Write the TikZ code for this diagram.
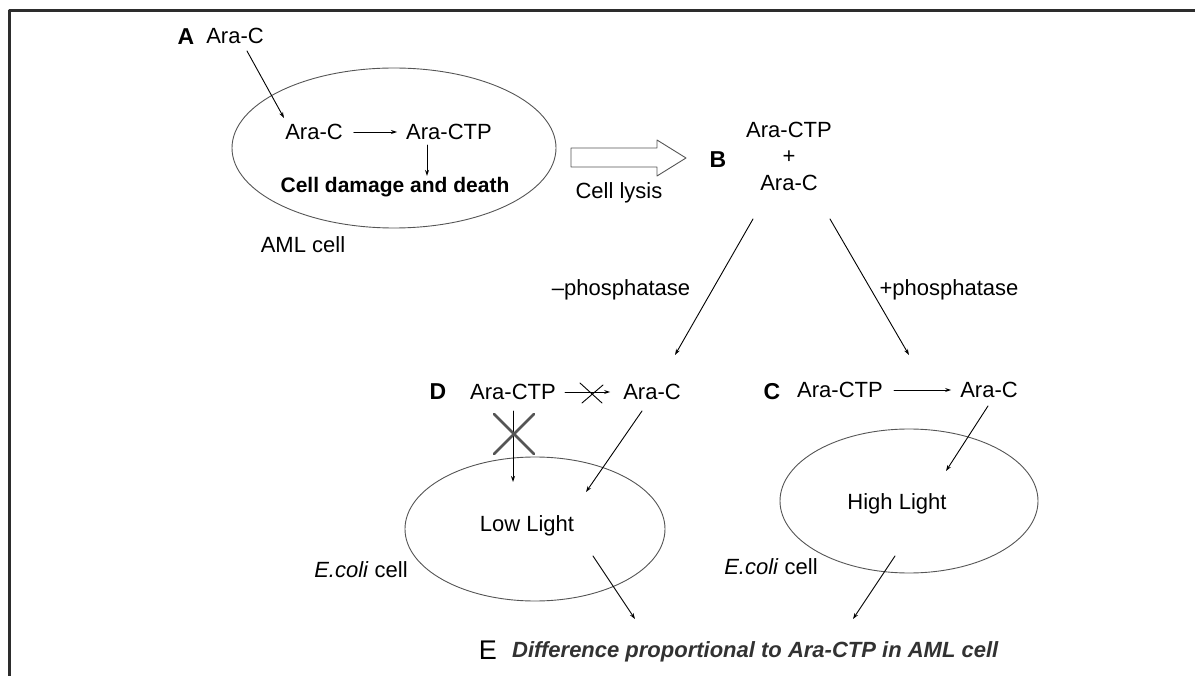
\documentclass[tikz,border=0pt]{standalone}
\usepackage{fontspec}
\setmainfont{Liberation Sans}
\usetikzlibrary{arrows.meta, calc, positioning, shapes.geometric}
\definecolor{framegray}{RGB}{45,45,45}
\definecolor{cellgray}{RGB}{85,85,85}
\definecolor{textgray}{RGB}{50,50,50}

\begin{document}
\begin{tikzpicture}[x=1pt, y=-1pt, line cap=round, line join=round, >={Stealth[length=6pt,width=4pt]},
	txt/.style={inner sep=1pt, font=\fontsize{22}{26}\selectfont},
	lab/.style={inner sep=1pt, font=\fontsize{23}{27}\selectfont\bfseries},
	cell/.style={draw=cellgray, line width=0.9pt, ellipse, inner sep=0pt},
	link/.style={->, black, line width=0.9pt}]

		\useasboundingbox (0,0) rectangle (1195,676);

		% frame
		\draw [framegray, line width=3pt, line cap=butt] (9,676)--(9,11)--(1195,11);

		% A: AML cell
		\node[cell, minimum width=324pt, minimum height=160pt] (aml) at (394,148) {};
		\node[lab] (labA) at (186,37) {A};
		\node[txt] (araA) at (235,36) {Ara-C};
		\node[txt] (araIn) at (314,132) {Ara-C};
		\node[txt] (ctpIn) at (449,132) {Ara-CTP};
		\node[inner sep=1pt, font=\fontsize{21}{25}\selectfont\bfseries] (death) at (395,187) {Cell damage and death};
		\node[txt] (amlLab) at (303,245) {AML cell};

		\draw [link] ([shift={(12,6)}]araA.south)--(284,118);
		\draw [link] ([xshift=10pt]araIn.east)--([xshift=-8pt]ctpIn.west);
		\draw [link] ([shift={(-22,4)}]ctpIn.south)--([xshift=-22pt]ctpIn.south |- death.north);

		% cell lysis
		\draw [cellgray, line width=0.9pt] (571,148)--(657,148)--(657,140)--(686,158)--(657,176)--(657,167)--(571,167)--cycle;
		\node[txt] (lysis) at (619,193) {Cell lysis};

		% B: lysate
		\node[lab] (labB) at (718,160) {B};
		\node[txt] (ctpB) at (789,130) {Ara-CTP};
		\node[txt] (plusB) at (789,157) {+};
		\node[txt] (araB) at (789,183) {Ara-C};

		\coordinate (minusEnd) at (675,355);
		\coordinate (plusEnd) at (909,355);
		\draw [link] ([shift={(-36,27)}]araB.south)--(minusEnd);
		\draw [link] ([shift={(41,27)}]araB.south)--(plusEnd);
		\node[txt] (minusLab) at (621,290) {–phosphatase};
		\node[txt] (plusLab) at (949,290) {+phosphatase};

		% D: without phosphatase
		\node[cell, minimum width=260pt, minimum height=144pt] (low) at (535,529) {};
		\node[lab] (labD) at (438,392) {D};
		\node[txt] (ctpD) at (513,392) {Ara-CTP};
		\node[txt] (araD) at (652,392) {Ara-C};
		\node[txt] (lowTxt) at (527,526) {Low Light};
		\node[txt] (ecoliL) at (361,570) {\itshape E.coli\/\upshape\ cell};

		\draw [link] ([xshift=8pt]ctpD.east)--([xshift=-12pt]araD.west);
		\draw [black, line width=0.9pt] (580,383)--(602,403) (582,403)--(603,385);
		\draw [link] ([yshift=-10pt]ctpD.south)--(513,482);
		\draw [cellgray, line width=2.5pt] (494,414)--(534,454) (534,414)--(494,454);
		\draw [link] ([shift={(-10,10)}]araD.south)--(586,492);

		% C: with phosphatase
		\node[cell, minimum width=258pt, minimum height=144pt] (high) at (909,501) {};
		\node[lab] (labC) at (772,392) {C};
		\node[txt] (ctpC) at (840,390) {Ara-CTP};
		\node[txt] (araC) at (989,390) {Ara-C};
		\node[txt] (highTxt) at (897,504) {High Light};
		\node[txt] (ecoliR) at (771,567) {\itshape E.coli\/\upshape\ cell};

		\draw [link] ([xshift=10pt]ctpC.east)--([xshift=-8pt]araC.west);
		\draw [link] ([shift={(-1,7)}]araC.south)--(946,471);

		% E: readout
		\node[inner sep=1pt, font=\fontsize{27}{30}\selectfont] (labE) at (488,650) {E};
		\node[inner sep=1pt, anchor=west, text=textgray, font=\fontsize{22}{26}\selectfont\bfseries\itshape] (diff) at (511,652) {Difference proportional to Ara-CTP in AML cell};

		\coordinate (lowEnd) at (635,619);
		\coordinate (highEnd) at (853,619);
		\draw [link] (593,556)--(lowEnd);
		\draw [link] (895,556)--(highEnd);
\end{tikzpicture}
\end{document}
